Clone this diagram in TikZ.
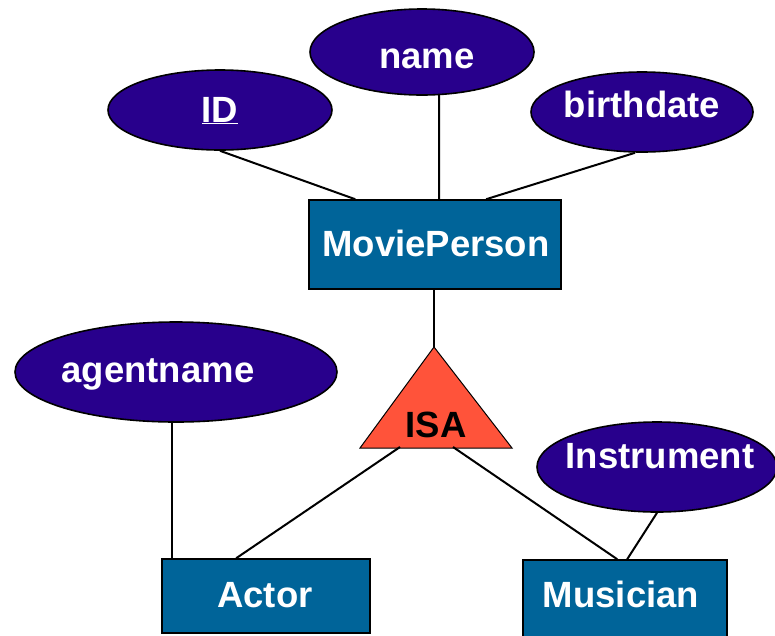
\documentclass[tikz,border=0pt]{standalone}
\usepackage{fontspec}
\setmainfont{Liberation Sans}
\usetikzlibrary{shapes.geometric,calc}
\definecolor{attrfill}{RGB}{40,0,140}
\definecolor{entfill}{RGB}{0,100,153}
\definecolor{isafill}{RGB}{255,83,58}
\tikzset{
  attr/.style={ellipse, draw=black, line width=1.6pt, fill=attrfill, inner sep=0pt},
  ent/.style={rectangle, draw=black, line width=1.6pt, fill=entfill, inner sep=0pt},
  lbl/.style={anchor=base, text=white, font=\bfseries\fontsize{36.5}{40}\selectfont, inner sep=0pt},
  isalbl/.style={anchor=base, text=black, font=\bfseries\fontsize{36.5}{40}\selectfont, inner sep=0pt},
  conn/.style={draw=black, line width=2pt},
  tri/.style={draw=black, line width=1pt, fill=isafill}
}
\begin{document}
\begin{tikzpicture}[x=1pt,y=-1pt]
\useasboundingbox (0,0) rectangle (775,635);
% attributes
\node[attr, minimum width=224pt, minimum height=80pt] (id) at (220,110) {};
\node[attr, minimum width=224pt, minimum height=86pt] (name) at (422,52) {};
\node[attr, minimum width=222pt, minimum height=80pt] (birth) at (642,112) {};
\node[attr, minimum width=322pt, minimum height=100pt] (agent) at (176,372) {};
\node[attr, minimum width=240pt, minimum height=90pt] (instr) at (657,467) {};
% entities
\node[ent, minimum width=252pt, minimum height=89pt] (mp) at (435,244.5) {};
\node[ent, minimum width=208pt, minimum height=74pt] (actor) at (266,596) {};
\node[ent, minimum width=204pt, minimum height=84pt] (mus) at (625,602) {};
% ISA triangle
\coordinate (isatop) at (434,347);
\coordinate (isal) at (360,448);
\coordinate (isar) at (512,448);
\draw[tri] (isatop) -- (isar) -- (isal) -- cycle;
\coordinate (isabl) at (400,447);
\coordinate (isabr) at (453,447);
% connectors
\draw[conn] (id.south) -- ($(mp.north west)+(47,0)$);
\draw[conn] ($(name.south)+(17,-1)$) -- ($(mp.north west)+(131,0)$);
\draw[conn] ($(birth.south)+(-7,0)$) -- ($(mp.north west)+(178,0)$);
\draw[conn] (mp.south -| isatop) -- (isatop);
\draw[conn] (agent.south -| 172,0) -- (actor.north -| 172,0);
\draw[conn] (isabl) -- ($(actor.north west)+(75,0)$);
\draw[conn] (isabr) -- ($(mus.north west)+(95,0)$);
\draw[conn] (instr.south) -- ($(mus.north west)+(105,0)$);
% labels
\node[lbl] (idl) at (220,122) {\underline{ID}};
\node[lbl] (namel) at (427,68) {name};
\node[lbl] (birthl) at (642,117) {birthdate};
\node[lbl] (agentl) at (158,382) {agentname};
\node[lbl] (instrl) at (660,468) {Instrument};
\node[lbl] (mpl) at (436,256) {MoviePerson};
\node[lbl] (actorl) at (265,607) {Actor};
\node[lbl] (musl) at (621,607) {Musician};
\node[isalbl] (isal2) at (436,437) {ISA};
\end{tikzpicture}
\end{document}
